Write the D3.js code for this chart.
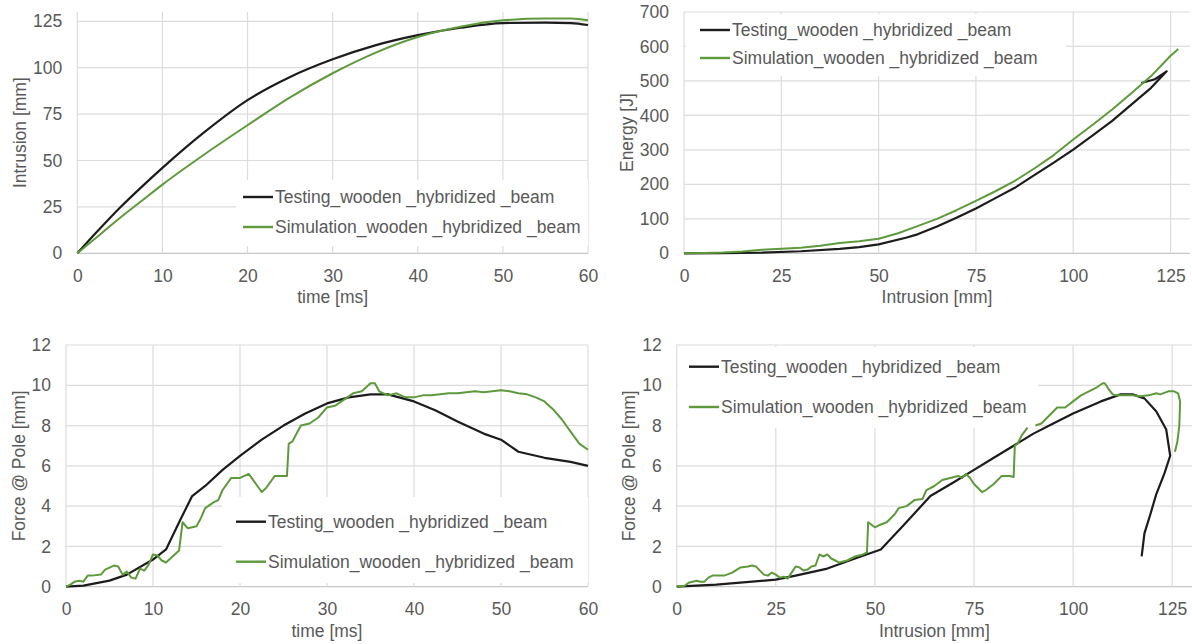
<!DOCTYPE html>
<html>
<head>
<meta charset="utf-8">
<script src="https://cdn.jsdelivr.net/npm/d3@7"></script>
<style>
  body { margin: 0; background: #fff; }
  svg text { font-family: "Liberation Sans", Arial, sans-serif; fill: #595959; }
</style>
</head>
<body>
<svg id="chart" width="1192" height="644"></svg>
<script>
// ---- data ----
const testName = "Testing_wooden _hybridized _beam";
const simName = "Simulation_wooden _hybridized _beam";

// top left: intrusion vs time
const intrTime = [0, 2.5, 5, 7.5, 10, 15, 20, 25, 30, 35, 40, 45, 50, 55, 58, 60];
const intrTest = [0, 12.5, 24.5, 35.5, 46, 65.5, 82.5, 95, 104.5, 112, 117.5, 121.5, 124, 124.3, 124, 123];
const intrSim = [0, 9.5, 19, 28, 37, 53.5, 69, 84, 97, 108, 116.5, 122, 125.5, 126.5, 126.5, 125.5];

// top right: energy vs intrusion
const enTestX = [0, 10, 20, 30, 40, 45, 50, 57, 60, 65, 70, 75, 80, 85, 90, 95, 100, 105, 110, 115, 120, 124, 121, 117.5];
const enTestY = [0, 0.5, 2, 6, 13, 18, 26, 45, 55, 78, 103, 130, 160, 190, 227, 263, 301, 342, 384, 432, 480, 528, 505, 494];
const enSimX = [0, 5, 10, 15, 20, 25, 30, 35, 40, 45, 50, 55, 60, 65, 70, 75, 80, 85, 90, 95, 100, 105, 110, 115, 120, 125, 127];
const enSimY = [0, 1, 2, 5, 10, 13, 16, 22, 30, 35, 42, 58, 79, 100, 125, 152, 180, 210, 246, 285, 330, 373, 417, 465, 514, 573, 593];

// bottom left: force vs time
const fTestT = [0, 2, 5, 7, 10, 11.5, 13, 14.5, 16, 18, 20, 22.5, 25, 27.5, 30, 32.5, 35, 37, 40, 42.5, 45, 48, 50, 52, 55, 58, 60];
const fTestF = [0, 0.05, 0.3, 0.6, 1.35, 1.85, 3.2, 4.5, 5.0, 5.8, 6.5, 7.3, 8.0, 8.6, 9.1, 9.4, 9.55, 9.55, 9.2, 8.75, 8.2, 7.6, 7.3, 6.7, 6.4, 6.2, 6.0];
const fSimT = [0, 0.5, 1, 1.5, 2, 2.5, 3, 4, 4.5, 5.5, 6, 6.5, 7, 7.5, 8, 8.5, 9, 9.5, 10, 10.5, 11, 11.5, 12, 13, 13.4, 14, 15, 15.5, 16, 17, 17.5, 18, 19, 20, 21, 22, 22.5, 23, 24, 25.4, 25.6, 26, 27, 28, 29, 30, 31, 32, 33, 34, 35, 35.5, 36, 36.5, 37, 38, 39, 40, 41, 42, 44, 45, 47, 48, 50, 51, 52, 53, 54, 55, 56, 57, 58, 59, 60];
const fSimF = [0, 0.1, 0.25, 0.3, 0.25, 0.55, 0.55, 0.6, 0.85, 1.05, 1.0, 0.6, 0.75, 0.45, 0.4, 0.9, 0.8, 1.1, 1.6, 1.55, 1.3, 1.2, 1.4, 1.8, 3.2, 2.9, 3.0, 3.4, 3.9, 4.2, 4.3, 4.8, 5.4, 5.4, 5.6, 5.0, 4.7, 4.9, 5.5, 5.5, 7.1, 7.2, 8.0, 8.1, 8.4, 8.9, 9.0, 9.3, 9.6, 9.7, 10.1, 10.1, 9.7, 9.6, 9.5, 9.6, 9.4, 9.4, 9.5, 9.5, 9.6, 9.6, 9.7, 9.65, 9.75, 9.7, 9.6, 9.55, 9.4, 9.2, 8.8, 8.3, 7.7, 7.1, 6.8];

// bottom right: force vs intrusion
const fiTestX = [0, 10, 25, 30, 38, 45, 51.5, 57, 64, 70, 75, 80, 85, 90, 95, 100, 107, 112, 115, 118, 121, 123.5, 124.5, 123, 121, 119.5, 118, 117.3];
const fiTestY = [0, 0.1, 0.35, 0.55, 0.9, 1.4, 1.85, 3.0, 4.5, 5.2, 5.8, 6.4, 7.0, 7.6, 8.1, 8.6, 9.2, 9.55, 9.55, 9.35, 8.7, 7.8, 6.5, 5.6, 4.6, 3.6, 2.65, 1.5];
const fiSimX = [0, 2, 3, 5, 6, 7, 8, 9, 12, 14, 16, 18, 19, 20, 21, 22, 23, 24, 25, 26, 27, 28, 29, 30, 31, 32, 33, 34, 35, 36, 37, 38, 39, 40, 41, 43, 45, 47, 48, 48.3, 49, 50, 51, 53, 55, 56, 58, 60, 62, 63, 65, 67, 69, 71, 72, 73, 74, 75, 76, 77, 78, 80, 82, 84, 85, 85.3, 86, 87, 88.5, 89.5, 90.5, 92, 94, 96, 98, 100, 102, 104, 106, 107.5, 108, 109, 110, 111, 113, 115, 117, 119, 121, 122, 124, 125.5, 126.5, 127, 126.8, 126.3, 125.7];
const fiSimY = [0, 0.05, 0.2, 0.3, 0.25, 0.25, 0.45, 0.55, 0.55, 0.7, 0.95, 1.0, 1.05, 1.0, 0.8, 0.6, 0.55, 0.7, 0.6, 0.45, 0.5, 0.4, 0.7, 1.0, 0.95, 0.8, 0.85, 1.0, 1.05, 1.6, 1.5, 1.6, 1.4, 1.3, 1.2, 1.3, 1.5, 1.6, 1.7, 3.2, 3.1, 2.95, 3.05, 3.2, 3.6, 3.9, 4.0, 4.3, 4.35, 4.8, 5.0, 5.3, 5.4, 5.5, 5.4, 5.6, 5.4, 5.1, 4.9, 4.7, 4.8, 5.1, 5.5, 5.5, 5.45, 7.0, 7.1, 7.5, 7.9, null, 8.0, 8.1, 8.5, 8.9, 8.9, 9.2, 9.5, 9.7, 9.9, 10.1, 10.1, 9.8, 9.55, 9.5, 9.5, 9.5, 9.45, 9.5, 9.6, 9.55, 9.7, 9.7, 9.6, 9.2, 8.0, 7.2, 6.7];

const zip = (xs, ys) => xs.map((x, i) => [x, ys[i]]);

const svg = d3.select("#chart");
const black = "#1c1c1c";
const green = "#5e9a3c";

function drawPanel(p) {
  const x = d3.scaleLinear().domain(p.xDomain).range([p.left, p.right]);
  const y = d3.scaleLinear().domain(p.yDomain).range([p.bottom, p.top]);
  const g = svg.append("g");

  // gridlines
  g.append("g").selectAll("line").data(p.yTicks).join("line")
    .attr("x1", p.left).attr("x2", p.right)
    .attr("y1", d => y(d)).attr("y2", d => y(d))
    .attr("stroke", d => d === 0 ? "#c8c8c8" : "#dcdcdc").attr("stroke-width", 1.2);
  g.append("g").selectAll("line").data(p.xTicks).join("line")
    .attr("x1", d => x(d)).attr("x2", d => x(d))
    .attr("y1", p.top).attr("y2", p.bottom)
    .attr("stroke", "#dcdcdc").attr("stroke-width", 1.2);

  // tick labels
  const xa = g.append("g").attr("transform", `translate(0,${p.bottom})`)
    .call(d3.axisBottom(x).tickValues(p.xTicks).tickSize(0).tickPadding(16));
  const ya = g.append("g").attr("transform", `translate(${p.left},0)`)
    .call(d3.axisLeft(y).tickValues(p.yTicks).tickSize(0).tickPadding(15));
  [xa, ya].forEach(a => {
    a.select(".domain").remove();
    a.selectAll("text").attr("font-size", "17.5px").attr("fill", "#595959")
      .attr("font-family", "'Liberation Sans', Arial, sans-serif");
  });

  // axis titles
  g.append("text")
    .attr("x", (p.left + p.right) / 2).attr("y", p.bottom + 50)
    .attr("text-anchor", "middle").attr("font-size", "17.5px")
    .text(p.xTitle);
  g.append("text")
    .attr("transform", `translate(${p.yTitleX},${(p.top + p.bottom) / 2}) rotate(-90)`)
    .attr("text-anchor", "middle").attr("dy", "0.35em").attr("font-size", "17.5px")
    .text(p.yTitle);

  // legend box hides the grid behind it
  const lg = p.legend;
  g.append("rect")
    .attr("x", lg.box[0]).attr("y", lg.box[1])
    .attr("width", lg.box[2]).attr("height", lg.box[3])
    .attr("fill", "#fff");

  // series
  p.series.forEach(s => {
    const line = d3.line()
      .defined(d => d[1] != null)
      .x(d => x(d[0])).y(d => y(d[1]))
      .curve(s.curve || d3.curveLinear);
    g.append("path")
      .datum(s.data)
      .attr("d", line)
      .attr("fill", "none")
      .attr("stroke", s.color)
      .attr("stroke-width", s.width)
      .attr("stroke-linejoin", "round");
  });

  // legend entries
  [[testName, black, lg.y1], [simName, green, lg.y2]].forEach(([name, c, ly]) => {
    g.append("line")
      .attr("x1", lg.x).attr("x2", lg.x + 30)
      .attr("y1", ly).attr("y2", ly)
      .attr("stroke", c).attr("stroke-width", 2.4);
    g.append("text")
      .attr("x", lg.x + 32).attr("y", ly).attr("dy", "0.35em")
      .attr("font-size", "17.5px").attr("fill", "#404040")
      .text(name);
  });
}

drawPanel({
  left: 77.3, right: 588, top: 12, bottom: 253.3,
  xDomain: [0, 60], yDomain: [0, 130],
  xTicks: d3.range(0, 61, 10), yTicks: d3.range(0, 126, 25),
  xTitle: "time [ms]", yTitle: "Intrusion [mm]", yTitleX: 20,
  legend: { box: [236, 180, 352, 66], x: 243, y1: 197, y2: 227 },
  series: [
    { data: zip(intrTime, intrTest), color: black, width: 2.2, curve: d3.curveMonotoneX },
    { data: zip(intrTime, intrSim), color: green, width: 2, curve: d3.curveMonotoneX }
  ]
});

drawPanel({
  left: 684, right: 1190, top: 12, bottom: 253.3,
  xDomain: [0, 130], yDomain: [0, 700],
  xTicks: d3.range(0, 126, 25), yTicks: d3.range(0, 701, 100),
  xTitle: "Intrusion [mm]", yTitle: "Energy [J]", yTitleX: 627,
  legend: { box: [686, 14, 380, 62], x: 700, y1: 30, y2: 58 },
  series: [
    { data: zip(enTestX, enTestY), color: black, width: 2.2 },
    { data: zip(enSimX, enSimY), color: green, width: 2 }
  ]
});

drawPanel({
  left: 66, right: 588, top: 345, bottom: 586.7,
  xDomain: [0, 60], yDomain: [0, 12],
  xTicks: d3.range(0, 61, 10), yTicks: d3.range(0, 13, 2),
  xTitle: "time [ms]", yTitle: "Force @ Pole [mm]", yTitleX: 19,
  legend: { box: [222, 497, 366, 86], x: 236, y1: 521.7, y2: 561.7 },
  series: [
    { data: zip(fTestT, fTestF), color: black, width: 2.2 },
    { data: zip(fSimT, fSimF), color: green, width: 2 }
  ]
});

drawPanel({
  left: 676.7, right: 1192, top: 345, bottom: 586.7,
  xDomain: [0, 130], yDomain: [0, 12],
  xTicks: d3.range(0, 126, 25), yTicks: d3.range(0, 13, 2),
  xTitle: "Intrusion [mm]", yTitle: "Force @ Pole [mm]", yTitleX: 629,
  legend: { box: [678, 347, 360, 81], x: 689, y1: 366.7, y2: 407 },
  series: [
    { data: zip(fiTestX, fiTestY), color: black, width: 2.2 },
    { data: zip(fiSimX, fiSimY), color: green, width: 2 }
  ]
});
</script>
</body>
</html>
